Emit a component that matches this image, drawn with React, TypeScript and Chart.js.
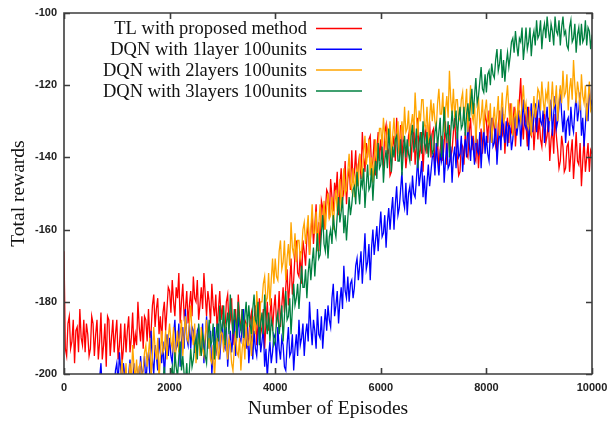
import React, { useEffect, useRef } from 'react';
import { Chart, registerables } from 'chart.js';

Chart.register(...registerables);

const EPISODE_STEP = 25;

const xTickValues = [0, 2000, 4000, 6000, 8000, 10000];
const yTickValues = [-200, -180, -160, -140, -120, -100];

const seriesLabels = [
  'TL with proposed method',
  'DQN with 1layer 100units',
  'DQN with 2layers 100units',
  'DQN with 3layers 100units',
];
const seriesColors = ['#ff0000', '#0000ff', '#ffa500', '#008040'];

const tlValues = [
  -166, -193, -195, -186, -184, -193, -191, -185, -197, -188, -187, -194, -182, -190, -192, -185, -194, -186, -189, -195,
  -193, -184, -186, -195, -189, -185, -196, -191, -183, -196, -192, -186, -198, -184, -185, -195, -190, -185, -194, -189,
  -185, -196, -192, -186, -197, -193, -186, -194, -188, -184, -194, -190, -183, -193, -189, -192, -180, -187, -191, -184,
  -193, -184, -185, -191, -182, -190, -188, -181, -178, -187, -182, -179, -189, -184, -191, -183, -180, -188, -182, -176,
  -177, -183, -174, -180, -184, -176, -179, -172, -186, -180, -175, -184, -182, -177, -186, -181, -177, -184, -173, -179,
  -180, -174, -185, -181, -176, -182, -172, -178, -184, -177, -180, -186, -175, -181, -184, -178, -188, -182, -177, -185,
  -181, -186, -188, -180, -178, -187, -185, -179, -192, -186, -182, -190, -178, -184, -188, -182, -191, -185, -186, -192,
  -190, -185, -183, -191, -185, -181, -192, -186, -179, -189, -187, -182, -193, -186, -180, -188, -184, -179, -188, -182,
  -178, -186, -184, -177, -187, -181, -176, -183, -176, -171, -181, -175, -168, -178, -174, -167, -163, -172, -173, -166,
  -175, -163, -166, -170, -162, -158, -167, -161, -156, -164, -159, -153, -165, -158, -166, -152, -154, -160, -155, -149,
  -150, -157, -146, -151, -155, -147, -150, -144, -156, -148, -143, -152, -149, -141, -153, -146, -143, -149, -138, -147,
  -144, -138, -148, -142, -139, -146, -133, -140, -144, -136, -140, -135, -134, -143, -141, -135, -145, -138, -133, -141,
  -135, -140, -142, -133, -131, -139, -138, -145, -144, -137, -134, -141, -129, -135, -139, -131, -141, -134, -136, -143,
  -139, -134, -132, -141, -135, -130, -142, -137, -129, -140, -138, -133, -144, -136, -131, -139, -136, -130, -140, -133,
  -132, -143, -139, -135, -144, -138, -134, -141, -136, -130, -142, -135, -131, -140, -138, -133, -129, -137, -140, -145,
  -144, -136, -137, -142, -133, -139, -140, -133, -129, -138, -134, -140, -141, -135, -143, -137, -132, -139, -134, -128,
  -130, -136, -127, -133, -136, -129, -132, -137, -139, -131, -127, -135, -134, -128, -139, -132, -129, -136, -125, -133,
  -132, -126, -137, -131, -128, -124, -118, -130, -135, -127, -131, -137, -126, -133, -134, -128, -138, -132, -127, -135,
  -129, -135, -137, -130, -127, -136, -134, -129, -141, -135, -132, -139, -128, -134, -138, -143, -141, -134, -137, -144,
  -143, -137, -136, -144, -139, -135, -146, -140, -133, -141, -142, -136, -148, -141, -135, -144, -140, -136, -144, -138,
  -139,
];

const dqn1Values = [
  -203, -211, -210, -206, -215, -209, -205, -212, -207, -203, -213, -208, -204, -211, -209, -203, -206, -213, -211, -205,
  -210, -205, -203, -208, -200, -206, -207, -201, -197, -205, -202, -208, -209, -203, -212, -206, -201, -207, -204, -199,
  -197, -203, -194, -199, -204, -197, -200, -205, -207, -200, -196, -203, -203, -197, -208, -201, -199, -204, -195, -200,
  -199, -195, -203, -197, -194, -200, -188, -196, -200, -192, -195, -199, -190, -194, -197, -191, -201, -194, -189, -195,
  -190, -195, -197, -189, -185, -193, -192, -186, -198, -191, -187, -193, -182, -190, -192, -186, -193, -187, -188, -194,
  -194, -188, -187, -194, -190, -186, -197, -191, -184, -190, -193, -188, -200, -194, -187, -195, -192, -186, -196, -190,
  -186, -192, -193, -187, -198, -192, -188, -194, -190, -185, -195, -189, -184, -190, -191, -187, -182, -189, -193, -187,
  -197, -192, -190, -196, -188, -193, -195, -189, -185, -194, -191, -187, -198, -193, -201, -195, -191, -197, -194, -189,
  -190, -197, -187, -193, -196, -190, -192, -198, -199, -192, -187, -195, -194, -189, -199, -193, -189, -195, -185, -192,
  -190, -186, -195, -189, -186, -191, -180, -187, -192, -185, -188, -193, -182, -189, -190, -184, -193, -187, -182, -188,
  -181, -185, -187, -179, -175, -184, -181, -177, -186, -180, -176, -182, -170, -177, -179, -173, -180, -175, -174, -179,
  -176, -170, -168, -174, -170, -166, -175, -168, -161, -171, -169, -164, -174, -165, -160, -167, -163, -159, -166, -160,
  -155, -162, -161, -156, -165, -158, -154, -160, -155, -151, -160, -153, -148, -156, -154, -149, -144, -152, -154, -147,
  -156, -150, -148, -153, -145, -150, -151, -146, -140, -148, -145, -141, -151, -145, -153, -147, -142, -148, -144, -140,
  -139, -145, -136, -141, -145, -139, -141, -135, -147, -141, -136, -143, -142, -137, -147, -140, -137, -143, -133, -140,
  -139, -134, -144, -138, -135, -140, -129, -136, -141, -134, -137, -142, -132, -138, -139, -133, -143, -136, -132, -139,
  -134, -139, -141, -133, -129, -137, -136, -130, -142, -136, -132, -138, -126, -133, -136, -130, -137, -131, -132, -138,
  -135, -130, -128, -134, -131, -127, -137, -130, -124, -131, -132, -126, -138, -131, -125, -133, -129, -125, -133, -127,
  -124, -130, -131, -127, -136, -130, -126, -133, -128, -124, -134, -128, -123, -132, -130, -126, -121, -128, -133, -127,
  -136, -130, -129, -134, -126, -131, -133, -127, -123, -130, -127, -122, -134, -129, -137, -131, -125, -130, -120, -126,
  -124,
];

const dqn2Values = [
  -206, -212, -203, -208, -213, -207, -209, -214, -216, -209, -205, -211, -212, -206, -217, -210, -208, -213, -204, -209,
  -208, -204, -213, -207, -204, -209, -201, -206, -210, -204, -206, -210, -202, -207, -208, -203, -211, -206, -203, -208,
  -201, -205, -207, -200, -196, -203, -202, -197, -208, -202, -197, -203, -192, -198, -201, -196, -203, -198, -197, -202,
  -199, -194, -192, -198, -194, -190, -201, -195, -187, -193, -196, -190, -202, -195, -188, -194, -193, -188, -196, -190,
  -186, -191, -193, -187, -198, -192, -188, -194, -189, -185, -195, -189, -184, -190, -191, -186, -181, -189, -192, -186,
  -197, -192, -190, -195, -187, -193, -195, -189, -185, -193, -190, -196, -197, -192, -201, -194, -190, -196, -193, -188,
  -189, -194, -186, -192, -196, -190, -192, -197, -199, -193, -188, -194, -195, -190, -199, -193, -190, -196, -186, -192,
  -192, -187, -195, -188, -184, -189, -177, -183, -187, -180, -180, -175, -173, -180, -179, -172, -181, -174, -168, -175,
  -168, -173, -174, -166, -163, -171, -169, -163, -174, -168, -164, -170, -158, -165, -167, -161, -169, -163, -163, -168,
  -166, -160, -158, -164, -160, -156, -167, -160, -153, -161, -161, -155, -166, -159, -153, -160, -157, -152, -160, -154,
  -150, -157, -156, -151, -160, -153, -149, -155, -150, -146, -155, -149, -143, -150, -149, -144, -139, -147, -149, -143,
  -151, -145, -143, -148, -139, -143, -145, -139, -134, -142, -139, -135, -145, -140, -147, -141, -135, -141, -137, -132,
  -132, -137, -129, -134, -138, -132, -134, -130, -140, -134, -129, -136, -135, -130, -140, -134, -130, -135, -126, -133,
  -132, -127, -137, -131, -128, -133, -122, -129, -134, -127, -130, -124, -124, -131, -132, -126, -136, -129, -124, -130,
  -125, -130, -132, -125, -121, -128, -128, -122, -133, -127, -123, -129, -116, -124, -128, -121, -129, -124, -124, -130,
  -129, -124, -122, -130, -126, -121, -133, -127, -120, -128, -130, -125, -136, -129, -123, -131, -129, -124, -133, -127,
  -124, -130, -131, -125, -136, -130, -126, -132, -128, -123, -134, -128, -122, -130, -129, -124, -120, -127, -131, -125,
  -134, -129, -127, -132, -124, -128, -130, -125, -120, -127, -125, -131, -132, -127, -134, -128, -123, -129, -126, -121,
  -122, -127, -119, -124, -128, -122, -124, -119, -130, -125, -119, -126, -125, -120, -130, -124, -120, -125, -116, -123,
  -122, -117, -127, -121, -118, -124, -113, -120, -125, -119, -122, -127, -117, -123, -125, -120, -130, -124, -119, -127,
  -126,
];

const dqn3Values = [
  -201, -207, -210, -214, -216, -209, -206, -212, -208, -205, -214, -209, -203, -210, -211, -206, -213, -208, -208, -213,
  -209, -214, -216, -210, -205, -211, -212, -206, -218, -212, -208, -214, -203, -209, -213, -208, -215, -210, -210, -214,
  -211, -206, -204, -210, -207, -203, -214, -208, -201, -209, -210, -205, -216, -209, -203, -210, -208, -204, -212, -207,
  -201, -206, -208, -203, -213, -207, -203, -209, -205, -201, -211, -205, -200, -206, -207, -202, -198, -204, -207, -201,
  -205, -200, -198, -203, -194, -198, -201, -195, -191, -199, -195, -200, -202, -197, -205, -199, -193, -198, -196, -192,
  -190, -196, -186, -192, -195, -189, -191, -195, -197, -190, -185, -192, -191, -186, -196, -190, -186, -191, -181, -188,
  -187, -181, -192, -186, -183, -189, -178, -184, -189, -182, -185, -190, -180, -186, -188, -182, -190, -184, -180, -187,
  -181, -186, -189, -182, -178, -185, -186, -180, -192, -186, -183, -189, -178, -185, -189, -183, -191, -185, -187, -192,
  -191, -185, -183, -189, -185, -181, -191, -184, -177, -185, -184, -179, -189, -182, -175, -181, -179, -175, -182, -176,
  -170, -176, -176, -171, -179, -172, -168, -174, -169, -165, -173, -167, -161, -168, -167, -161, -156, -164, -166, -160,
  -168, -162, -160, -164, -156, -160, -162, -156, -151, -158, -155, -151, -161, -156, -163, -157, -151, -156, -153, -149,
  -148, -153, -144, -149, -153, -146, -148, -143, -154, -148, -142, -149, -148, -143, -152, -145, -141, -146, -136, -143,
  -142, -137, -147, -141, -138, -143, -132, -138, -144, -137, -140, -135, -134, -141, -141, -135, -145, -139, -134, -140,
  -135, -139, -141, -134, -131, -138, -137, -132, -143, -136, -133, -139, -130, -136, -138, -133, -140, -135, -134, -139,
  -138, -133, -131, -137, -133, -129, -140, -134, -126, -133, -135, -130, -140, -133, -127, -132, -131, -127, -135, -129,
  -126, -132, -131, -126, -134, -128, -125, -130, -125, -121, -128, -123, -118, -125, -123, -119, -115, -121, -122, -117,
  -122, -117, -116, -120, -114, -117, -118, -113, -110, -116, -114, -110, -118, -113, -119, -114, -111, -115, -112, -108,
  -107, -111, -105, -109, -112, -107, -108, -104, -113, -109, -104, -110, -108, -104, -112, -107, -105, -109, -102, -107,
  -106, -102, -110, -105, -103, -107, -101, -105, -108, -103, -105, -109, -101, -105, -106, -102, -109, -104, -101, -106,
  -105, -109, -110, -104, -102, -108, -107, -103, -111, -106, -104, -109, -103, -108, -107, -102, -109, -104, -105, -110,
  -106,
];

const allValues = [tlValues, dqn1Values, dqn2Values, dqn3Values];

const TICK_FONT = { family: '"Liberation Sans", Arial, sans-serif', size: 11, weight: 'bold' as const };
const TITLE_FONT = { family: '"Liberation Serif", "Times New Roman", serif', size: 19.5 };
const LEGEND_FONT = '18.5px "Liberation Serif", "Times New Roman", serif';

const framePlugin = {
  id: 'frameAndLegend',
  afterDatasetsDraw(chart: any) {
    const { ctx, chartArea, scales } = chart;
    const { left, right, top, bottom } = chartArea;
    const xs = scales.x;
    const ys = scales.y;
    ctx.save();
    ctx.strokeStyle = '#3c3c3c';
    ctx.lineWidth = 1.6;
    ctx.beginPath();
    ctx.rect(left, top, right - left, bottom - top);
    const tl = 6;
    xTickValues.forEach((v) => {
      const px = Math.round(xs.getPixelForValue(v)) + 0.5;
      ctx.moveTo(px, bottom);
      ctx.lineTo(px, bottom - tl);
      ctx.moveTo(px, top);
      ctx.lineTo(px, top + tl);
    });
    yTickValues.forEach((v) => {
      const py = Math.round(ys.getPixelForValue(v)) + 0.5;
      ctx.moveTo(left, py);
      ctx.lineTo(left + tl, py);
      ctx.moveTo(right, py);
      ctx.lineTo(right - tl, py);
    });
    ctx.stroke();

    ctx.font = LEGEND_FONT;
    ctx.textAlign = 'right';
    ctx.textBaseline = 'middle';
    chart.data.datasets.forEach((ds: any, i: number) => {
      const rowY = top + 15.5 + i * 20.8;
      ctx.fillStyle = '#111111';
      ctx.fillText(ds.label, left + 243, rowY + 1);
      ctx.strokeStyle = ds.borderColor;
      ctx.lineWidth = 1.5;
      ctx.beginPath();
      ctx.moveTo(left + 252, rowY);
      ctx.lineTo(left + 298, rowY);
      ctx.stroke();
    });
    ctx.restore();
  },
};

export default function App() {
  const canvasRef = useRef<HTMLCanvasElement | null>(null);

  useEffect(() => {
    if (!canvasRef.current) return;
    const orders = [3, 2, 1, 0];
    const datasets = allValues.map((vals, si) => ({
      label: seriesLabels[si],
      data: vals.map((v, i) => ({ x: i * EPISODE_STEP, y: v })),
      borderColor: seriesColors[si],
      backgroundColor: seriesColors[si],
      borderWidth: 1.3,
      pointRadius: 0,
      tension: 0,
      fill: false,
      clip: 0,
      order: orders[si],
    }));

    const chart = new Chart(canvasRef.current, {
      type: 'line',
      data: { datasets },
      options: {
        responsive: false,
        animation: false,
        layout: { padding: { left: 0, top: 13, right: 19, bottom: 0 } },
        plugins: {
          legend: { display: false },
          tooltip: { enabled: false },
        },
        scales: {
          x: {
            type: 'linear',
            min: 0,
            max: 10000,
            grid: { display: false, drawTicks: false },
            border: { display: false },
            afterBuildTicks: (s: any) => {
              s.ticks = xTickValues.map((v) => ({ value: v }));
            },
            ticks: {
              font: TICK_FONT,
              color: '#222222',
              padding: 7,
              maxRotation: 0,
              autoSkip: false,
              callback: (v: any) => String(v),
            },
            title: {
              display: true,
              text: 'Number of Episodes',
              font: TITLE_FONT,
              color: '#111111',
              padding: { top: 0, bottom: 1 },
            },
            afterFit: (s: any) => {
              s.height = 48;
              s.paddingLeft = 0;
              s.paddingRight = 0;
            },
          },
          y: {
            type: 'linear',
            min: -200,
            max: -100,
            grid: { display: false, drawTicks: false },
            border: { display: false },
            afterBuildTicks: (s: any) => {
              s.ticks = yTickValues.map((v) => ({ value: v }));
            },
            ticks: {
              font: TICK_FONT,
              color: '#222222',
              padding: 7,
              autoSkip: false,
              callback: (v: any) => String(v),
            },
            title: {
              display: true,
              text: 'Total rewards',
              font: TITLE_FONT,
              color: '#111111',
              padding: { top: 7, bottom: 0 },
            },
            afterFit: (s: any) => {
              s.width = 64;
              s.paddingTop = 0;
              s.paddingBottom = 0;
            },
          },
        },
      },
      plugins: [framePlugin],
    } as any);

    return () => chart.destroy();
  }, []);

  return (
    <div style={{ position: 'absolute', left: 0, top: 0, width: 611, height: 422, background: '#ffffff' }}>
      <canvas ref={canvasRef} width={611} height={422} style={{ display: 'block' }} />
    </div>
  );
}
